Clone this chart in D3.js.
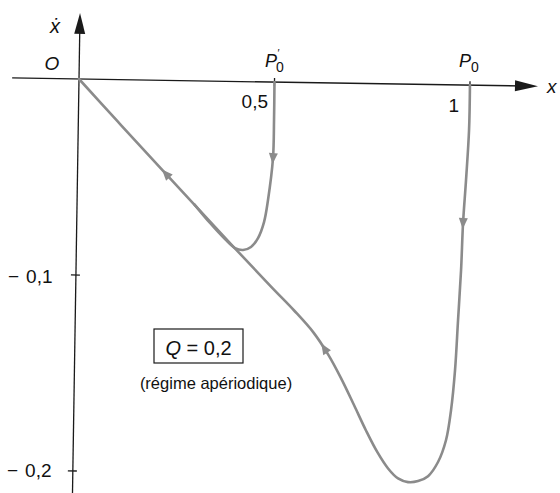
<!DOCTYPE html>
<html>
<head>
<meta charset="utf-8">
<script src="https://cdn.jsdelivr.net/npm/d3@7"></script>
<style>
  html, body { margin: 0; padding: 0; background: #fff; }
  text { font-family: "Liberation Sans", Arial, "DejaVu Sans", sans-serif; fill: #111; }
</style>
</head>
<body>
<svg id="chart" width="560" height="493"></svg>
<script>
// Phase portrait (x, dx/dt) of an overdamped oscillator, Q = 0.2

// Trajectory released from P0 (x = 1, zero velocity)
const trajP0 = [
  [1.0000, 0.0000], [0.9995, -0.0229], [0.9938, -0.0484], [0.9879, -0.0704],
  [0.9847, -0.0944], [0.9790, -0.1199], [0.9733, -0.1455], [0.9647, -0.1659],
  [0.9531, -0.1812], [0.9335, -0.1925], [0.9085, -0.1998], [0.8832, -0.2024],
  [0.8576, -0.2030], [0.8319, -0.2012], [0.8060, -0.1962], [0.7780, -0.1880],
  [0.7480, -0.1770], [0.7160, -0.1640], [0.6820, -0.1505], [0.6480, -0.1385],
  [0.6100, -0.1275], [0.5600, -0.1165], [0.5000, -0.1045], [0.4000, -0.0840],
  [0.2200, -0.0464], [0.1000, -0.0212], [0.0000, 0.0000]
];

// Trajectory released from P'0 (x = 0.5, zero velocity)
const trajP0prime = [
  [0.5000, 0.0000], [0.5004, -0.0194], [0.4993, -0.0387], [0.4882, -0.0602],
  [0.4789, -0.0715], [0.4642, -0.0797], [0.4466, -0.0843], [0.4263, -0.0859],
  [0.4058, -0.0850], [0.3798, -0.0805], [0.3408, -0.0724], [0.3000, -0.0630]
];

// Direction arrows placed along the trajectories
const arrowsP0 = [[0.9879, -0.0704], [0.6450, -0.1347], [0.2238, -0.0483]];
const arrowsP0prime = [[0.4993, -0.0387]];

// Axis ticks
const xTicks = [0.5, 1];
const xTickLabels = ["0,5", "1"];
const yTicks = [-0.1, -0.2];
const yTickLabels = ["0,1", "0,2"];

const curveColor = "#8b8b8b";
const axisColor = "#1a1a1a";

const svg = d3.select("#chart");
const x = d3.scaleLinear().domain([0, 1]).range([79, 470]);
const y = d3.scaleLinear().domain([0, -0.2]).range([79, 471]);

// drawing layer (slightly tilted like a scanned page)
const g = svg.append("g").attr("transform", "rotate(0.9, 79, 79)");

// axes
g.append("line")
  .attr("x1", x(-0.171)).attr("x2", x(1.16))
  .attr("y1", y(0)).attr("y2", y(0))
  .attr("stroke", axisColor).attr("stroke-width", 1.3);
g.append("path")
  .attr("d", `M${x(1.174)},${y(0)} L${x(1.174) - 23},${y(0) - 5.5} L${x(1.174) - 23},${y(0) + 5.5} Z`)
  .attr("fill", axisColor);

g.append("line")
  .attr("x1", x(0)).attr("x2", x(0))
  .attr("y1", y(-0.216)).attr("y2", y(0.028))
  .attr("stroke", axisColor).attr("stroke-width", 1.3);
g.append("path")
  .attr("d", `M${x(0)},${y(0.0337)} L${x(0) - 5.5},${y(0.0337) + 21} L${x(0) + 5.5},${y(0.0337) + 21} Z`)
  .attr("fill", axisColor);

// ticks
g.selectAll(".xtick").data(xTicks).enter().append("line")
  .attr("class", "xtick")
  .attr("x1", d => x(d)).attr("x2", d => x(d))
  .attr("y1", y(0) - 4).attr("y2", y(0) + 4)
  .attr("stroke", axisColor).attr("stroke-width", 1.3);
g.selectAll(".ytick").data(yTicks).enter().append("line")
  .attr("class", "ytick")
  .attr("x1", x(0) - 5).attr("x2", x(0) + 4)
  .attr("y1", d => y(d)).attr("y2", d => y(d))
  .attr("stroke", axisColor).attr("stroke-width", 1.3);

// trajectories
const line = d3.line().x(d => x(d[0])).y(d => y(d[1])).curve(d3.curveCatmullRom.alpha(0.5));

function drawTrajectory(data, arrows) {
  const p = g.append("path")
    .attr("d", line(data))
    .attr("fill", "none")
    .attr("stroke", curveColor)
    .attr("stroke-width", 2.6)
    .attr("stroke-linecap", "round")
    .attr("stroke-linejoin", "round");
  const node = p.node();
  const L = node.getTotalLength();
  arrows.forEach(a => {
    const ax = x(a[0]), ay = y(a[1]);
    let best = 0, bd = Infinity;
    for (let s = 0; s <= L; s += 0.5) {
      const q = node.getPointAtLength(s);
      const dd = (q.x - ax) ** 2 + (q.y - ay) ** 2;
      if (dd < bd) { bd = dd; best = s; }
    }
    const p1 = node.getPointAtLength(Math.max(0, best - 3));
    const p2 = node.getPointAtLength(Math.min(L, best + 3));
    const c = node.getPointAtLength(best);
    const ang = Math.atan2(p2.y - p1.y, p2.x - p1.x) * 180 / Math.PI;
    g.append("path")
      .attr("d", "M6,0 L-5,-4.5 L-5,4.5 Z")
      .attr("transform", `translate(${c.x},${c.y}) rotate(${ang})`)
      .attr("fill", curveColor);
  });
}
drawTrajectory(trajP0, arrowsP0);
drawTrajectory(trajP0prime, arrowsP0prime);

// labels
const t = svg.append("g");

t.append("text").attr("x", 55).attr("y", 33).attr("text-anchor", "middle")
  .attr("font-size", 20).attr("font-style", "italic").text("\u1E8B");
t.append("text").attr("x", 52).attr("y", 70).attr("text-anchor", "middle")
  .attr("font-size", 19).attr("font-style", "italic").text("O");
t.append("text").attr("x", 547).attr("y", 93)
  .attr("font-size", 19).attr("font-style", "italic").text("x");

// P'0 : prime raised above the subscript
const pp = t.append("text").attr("x", 265).attr("y", 67).attr("font-size", 18);
pp.append("tspan").attr("font-style", "italic").text("P");
pp.append("tspan").attr("font-size", 11).attr("dx", 0.5).attr("dy", -10).text("\u2032");
pp.append("tspan").attr("font-size", 14).attr("dx", -3.5).attr("dy", 15).text("0");

const p0 = t.append("text").attr("x", 459).attr("y", 67).attr("font-size", 18);
p0.append("tspan").attr("font-style", "italic").text("P");
p0.append("tspan").attr("font-size", 14).attr("dy", 5).text("0");

// tick labels
const xLabelPos = [[268, 108], [459, 112]];
t.selectAll(".xl").data(xTickLabels).enter().append("text")
  .attr("class", "xl")
  .attr("x", (d, i) => xLabelPos[i][0]).attr("y", (d, i) => xLabelPos[i][1])
  .attr("text-anchor", "end").attr("font-size", 19).text(d => d);
const yLabelPos = [[8, 283], [7, 477]];
const yl = t.selectAll(".yl").data(yTickLabels).enter().append("text")
  .attr("class", "yl")
  .attr("x", (d, i) => yLabelPos[i][0]).attr("y", (d, i) => yLabelPos[i][1])
  .attr("font-size", 19);
yl.append("tspan").text("\u2212");
yl.append("tspan").attr("dx", 7).text(d => d);

// parameter box
t.append("rect").attr("x", 154).attr("y", 329).attr("width", 89).attr("height", 34)
  .attr("fill", "none").attr("stroke", axisColor).attr("stroke-width", 1.2);
const q = t.append("text").attr("x", 198.5).attr("y", 355).attr("text-anchor", "middle").attr("font-size", 20);
q.append("tspan").attr("font-style", "italic").text("Q");
q.append("tspan").text(" = 0,2");
t.append("text").attr("x", 216).attr("y", 389).attr("text-anchor", "middle")
  .attr("font-size", 16.5).text("(régime apériodique)");
</script>
</body>
</html>
